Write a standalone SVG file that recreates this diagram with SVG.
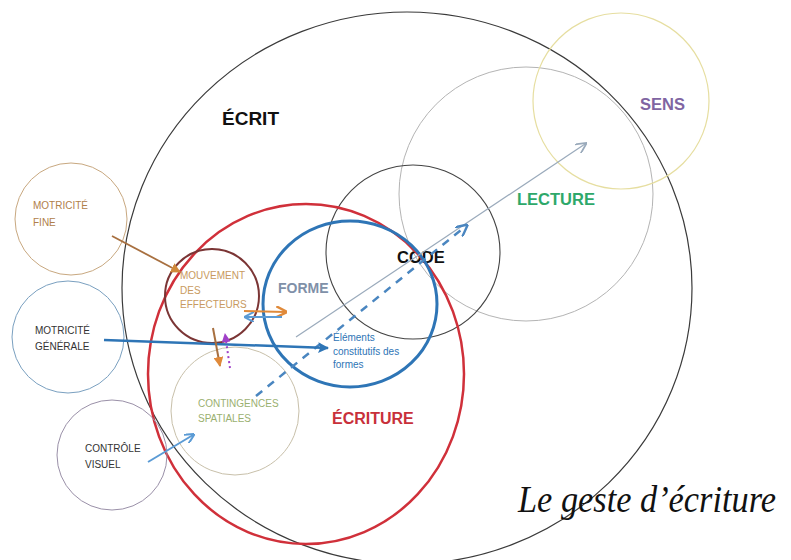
<svg xmlns="http://www.w3.org/2000/svg" width="791" height="560" viewBox="0 0 791 560">
<style>
  .c { fill: none; }
  .lbl { font-family: "Liberation Sans", Arial, sans-serif; font-weight: bold; }
  .sm { font-family: "Liberation Sans", Arial, sans-serif; font-size: 10px; }
</style>
<defs>
  <marker id="mBrown" viewBox="0 0 10 10" refX="9" refY="5" markerWidth="10" markerHeight="10" markerUnits="userSpaceOnUse" orient="auto"><path d="M0,0 L10,5 L0,10 Z" fill="#d08a3c"/></marker>
  <marker id="mOrange" viewBox="0 0 10 10" refX="8" refY="5" markerWidth="11" markerHeight="11" markerUnits="userSpaceOnUse" orient="auto"><path d="M0,0 L10,5 L0,10" fill="none" stroke="#e08a3a" stroke-width="2.2"/></marker>
  <marker id="mBlue" viewBox="0 0 10 10" refX="9" refY="5" markerWidth="11" markerHeight="11" markerUnits="userSpaceOnUse" orient="auto"><path d="M0,0 L10,5 L0,10 L2,5 Z" fill="#2e75b6"/></marker>
  <marker id="mLBlue" viewBox="0 0 10 10" refX="8" refY="5" markerWidth="10" markerHeight="10" markerUnits="userSpaceOnUse" orient="auto"><path d="M0,0 L10,5 L0,10" fill="none" stroke="#5b9bd5" stroke-width="2"/></marker>
  <marker id="mDash" viewBox="0 0 10 10" refX="8" refY="5" markerWidth="12" markerHeight="12" markerUnits="userSpaceOnUse" orient="auto"><path d="M0,0 L10,5 L0,10" fill="none" stroke="#4a86c0" stroke-width="2"/></marker>
  <marker id="mGray" viewBox="0 0 10 10" refX="8" refY="5" markerWidth="11" markerHeight="11" markerUnits="userSpaceOnUse" orient="auto"><path d="M0,0 L10,5 L0,10" fill="none" stroke="#9aaabb" stroke-width="1.6"/></marker>
  <marker id="mPurple" viewBox="0 0 10 10" refX="9" refY="5" markerWidth="9" markerHeight="9" markerUnits="userSpaceOnUse" orient="auto"><path d="M0,0 L10,5 L0,10 Z" fill="#a040c8"/></marker>
  <marker id="mOr2" viewBox="0 0 10 10" refX="9" refY="5" markerWidth="10" markerHeight="10" markerUnits="userSpaceOnUse" orient="auto"><path d="M0,0 L10,5 L0,10 Z" fill="#e08a3a"/></marker>
</defs>
<rect width="791" height="560" fill="#ffffff"/>

<g id="ecrit">
  <ellipse class="c" cx="407" cy="288" rx="285" ry="276" stroke="#3a3a3a" stroke-width="1.2"/>
  <text class="lbl" x="222" y="125" font-size="19" fill="#111">ÉCRIT</text>
</g>
<g id="lecture">
  <circle class="c" cx="526" cy="194" r="127" stroke="#b4b4b4" stroke-width="1"/>
  <text class="lbl" x="517" y="205" font-size="16.5" fill="#2ea86a">LECTURE</text>
</g>
<g id="sens">
  <circle class="c" cx="621" cy="101" r="88" stroke="#e6dea0" stroke-width="1.2"/>
  <text class="lbl" x="640" y="110" font-size="16.5" fill="#8064a2">SENS</text>
</g>
<g id="code">
  <circle class="c" cx="413" cy="252" r="87" stroke="#444" stroke-width="1.1"/>
  <text class="lbl" x="397" y="263" font-size="16.5" fill="#111">CODE</text>
</g>
<g id="ecriture">
  <ellipse class="c" cx="306" cy="374" rx="158" ry="170" stroke="#d0303a" stroke-width="2.5"/>
  <text class="lbl" x="332" y="424" font-size="16" fill="#c8303a">ÉCRITURE</text>
</g>
<g id="forme">
  <ellipse class="c" cx="350" cy="304" rx="87" ry="83" stroke="#2e75b6" stroke-width="3"/>
  <text class="lbl" x="278" y="293" font-size="14" fill="#8090a8">FORME</text>
  <text class="sm" fill="#2e75b6"><tspan x="333" y="341">Éléments</tspan><tspan x="333" y="355">constitutifs des</tspan><tspan x="333" y="368">formes</tspan></text>
</g>
<g id="mouvement">
  <circle class="c" cx="212" cy="296" r="47" stroke="#7b3535" stroke-width="2"/>
  <text class="sm" font-size="9.5" fill="#c89a60"><tspan x="180" y="279">MOUVEMENT</tspan><tspan x="180" y="294">DES</tspan><tspan x="180" y="308">EFFECTEURS</tspan></text>
</g>
<g id="contingences">
  <circle class="c" cx="235" cy="411" r="64" stroke="#c8c0aa" stroke-width="1"/>
  <text class="sm" font-size="10.3" fill="#9ab070"><tspan x="198" y="407">CONTINGENCES</tspan><tspan x="198" y="422">SPATIALES</tspan></text>
</g>
<g id="motricite-fine">
  <circle class="c" cx="71" cy="219" r="56" stroke="#c8a880" stroke-width="1"/>
  <text class="sm" font-size="10.5" fill="#b0804a"><tspan x="33" y="209">MOTRICITÉ</tspan><tspan x="33" y="226">FINE</tspan></text>
</g>
<g id="motricite-generale">
  <circle class="c" cx="68" cy="337" r="56" stroke="#7aa0c0" stroke-width="1"/>
  <text class="sm" font-size="10.5" fill="#333"><tspan x="35" y="334">MOTRICITÉ</tspan><tspan x="35" y="350">GÉNÉRALE</tspan></text>
</g>
<g id="controle-visuel">
  <circle class="c" cx="112" cy="455" r="55" stroke="#9a90a8" stroke-width="1"/>
  <text class="sm" font-size="10.5" fill="#333"><tspan x="85" y="452">CONTRÔLE</tspan><tspan x="85" y="468">VISUEL</tspan></text>
</g>

<g id="connectors" fill="none">
  <line x1="296" y1="337" x2="585" y2="144" stroke="#9aaabb" stroke-width="1.2" marker-end="url(#mGray)"/>
  <line x1="256" y1="396" x2="466" y2="226" stroke="#4a86c0" stroke-width="2.5" stroke-dasharray="8 7" marker-end="url(#mDash)"/>
  <line x1="112" y1="236" x2="180" y2="272" stroke="#a87040" stroke-width="1.8" marker-end="url(#mBrown)"/>
  <line x1="104" y1="340" x2="328" y2="348" stroke="#2e75b6" stroke-width="2.5" marker-end="url(#mBlue)"/>
  <line x1="148" y1="462" x2="193" y2="435" stroke="#5b9bd5" stroke-width="2" marker-end="url(#mLBlue)"/>
  <line x1="244" y1="311" x2="285" y2="312" stroke="#e08a3a" stroke-width="2.2" marker-end="url(#mOrange)"/>
  <line x1="282" y1="317" x2="246" y2="317" stroke="#5b9bd5" stroke-width="1.8" marker-end="url(#mLBlue)"/>
  <line x1="213" y1="328" x2="220" y2="366" stroke="#a87040" stroke-width="2" marker-end="url(#mOr2)"/>
  <line x1="230" y1="368" x2="225" y2="334" stroke="#a040c8" stroke-width="2" stroke-dasharray="2 3" marker-end="url(#mPurple)"/>
</g>

<g id="title">
  <text x="518" y="512" font-family="'Liberation Serif', 'DejaVu Serif', serif" font-style="italic" font-size="38" fill="#111" textLength="258" lengthAdjust="spacingAndGlyphs">Le geste d’écriture</text>
</g>
</svg>
